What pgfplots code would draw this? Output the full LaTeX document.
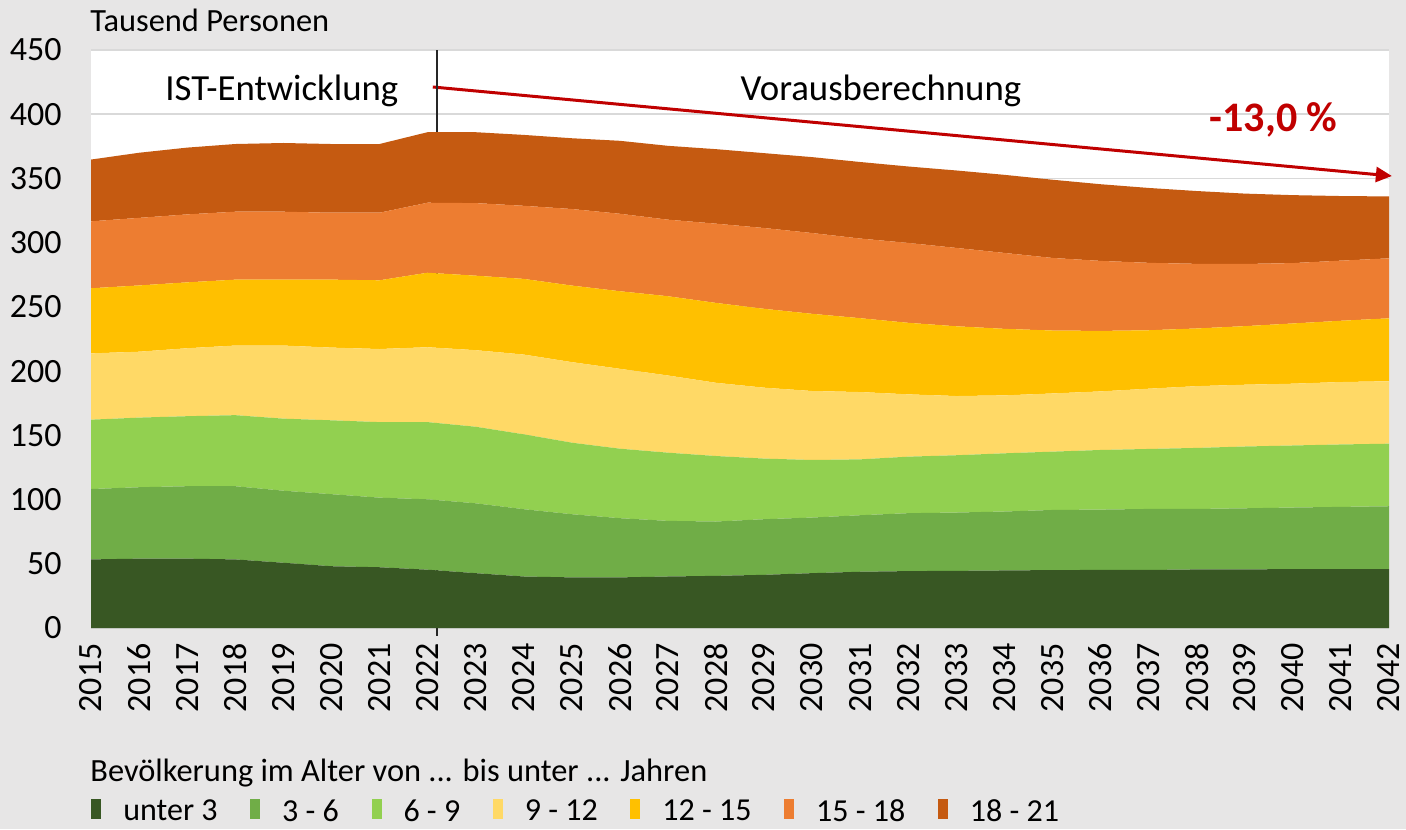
\documentclass[border=0pt]{standalone}
\usepackage{fontspec}
\setmainfont{Carlito}
\usepackage{pgfplots}
\usepackage{pgfplotstable}
\pgfplotsset{compat=1.18}
\usetikzlibrary{arrows.meta}
\definecolor{bgc}{HTML}{E7E6E6}
\definecolor{gridc}{HTML}{D9D9D9}
\definecolor{ca}{HTML}{385723}
\definecolor{cb}{HTML}{70AD47}
\definecolor{cc}{HTML}{92D050}
\definecolor{cd}{HTML}{FFD966}
\definecolor{ce}{HTML}{FFC000}
\definecolor{cf}{HTML}{ED7D31}
\definecolor{cg}{HTML}{C55A11}
\definecolor{redc}{HTML}{C00000}
\pgfplotstableread{
year a b c d e f g
2015 53.4 54.8 54.0 51.6 50.7 52.1 48.1
2016 54.0 55.6 54.2 51.3 51.6 52.6 50.7
2017 54.0 56.4 54.5 52.9 51.3 52.9 52.0
2018 53.4 57.0 55.3 54.2 51.3 52.9 52.7
2019 50.8 56.1 56.1 56.9 51.3 52.9 53.5
2020 48.1 56.1 57.5 56.6 52.9 52.1 53.5
2021 47.3 54.2 58.8 56.9 53.5 52.6 53.5
2022 45.4 54.8 60.1 58.3 58.0 54.5 54.9
2023 42.7 54.4 59.6 59.6 58.0 56.5 55.2
2024 40.1 52.4 58.3 62.1 58.9 56.9 55.2
2025 39.4 49.2 55.7 62.7 59.6 59.6 55.1
2026 39.4 46.1 54.1 62.2 60.4 60.3 56.8
2027 40.1 43.3 53.1 60.1 61.7 59.6 57.5
2028 40.6 42.3 51.0 57.0 62.2 61.7 58.0
2029 41.4 43.3 47.2 55.2 61.4 62.9 58.3
2030 42.7 43.3 44.8 53.7 60.1 62.9 59.1
2031 43.8 44.0 43.5 52.4 57.5 62.0 59.6
2032 44.3 45.1 44.0 48.5 55.7 62.2 59.5
2033 44.5 45.4 44.6 46.1 54.3 61.0 60.3
2034 44.8 45.9 45.3 45.1 51.8 59.1 60.8
2035 45.1 46.8 45.4 45.3 49.0 56.5 60.9
2036 45.2 47.0 46.4 45.6 47.1 54.5 59.7
2037 45.2 47.5 46.7 46.9 45.5 52.5 58.3
2038 45.6 47.1 47.5 48.1 44.9 50.3 56.7
2039 45.6 47.6 48.1 48.1 45.6 48.4 54.8
2040 45.9 47.9 48.3 48.1 46.9 47.0 52.9
2041 45.9 48.4 48.6 48.6 47.7 46.8 50.3
2042 45.9 48.9 48.7 48.6 49.0 46.7 48.2
}\data
\begin{document}
\begin{tikzpicture}
\fill[bgc] (0,0) rectangle (703pt,414.5pt);
\useasboundingbox (0,0) rectangle (703pt,414.5pt);
\node[anchor=west, font=\fontsize{16.2}{19}\selectfont, inner sep=0pt] at (45pt,404.5pt) {Tausend Personen};
\node[anchor=west, font=\fontsize{16.2}{19}\selectfont, inner sep=0pt] at (45pt,28pt) {Bevölkerung im Alter von ... bis unter ... Jahren};
\begin{axis}[
  at={(45.5pt,100.5pt)}, anchor=south west,
  width=649pt, height=289pt, scale only axis,
  xmin=2015, xmax=2042, ymin=0, ymax=450,
  xtick={2015,...,2042}, ytick={0,50,...,450},
  stack plots=y,
  axis line style={draw=none},
  tick style={draw=none},
  ymajorgrids, grid style={draw=gridc, line width=0.9pt},
  axis background/.style={fill=white},
  tick label style={font=\fontsize{17}{20}\selectfont},
  /pgf/number format/assume math mode=true,
  xticklabel style={rotate=90, anchor=east, inner xsep=7.5pt, inner ysep=0pt, /pgf/number format/1000 sep={}},
  yticklabel style={anchor=east, inner xsep=14.5pt},
  clip=false,
  legend columns=7,
  legend cell align=left,
  legend style={at={(axis description cs:0,-0.318)}, anchor=west, draw=none, fill=none, inner sep=0pt,
    font=\fontsize{16}{19}\selectfont,
    /tikz/every odd column/.append style={column sep=11pt},
    /tikz/every even column/.append style={column sep=16.3pt},
    nodes={inner sep=0pt}},
  legend image code/.code={\fill[#1] (0pt,-3.5pt) rectangle (5pt,6.5pt);},
]
\addplot[fill=ca, draw=none] table[x=year,y=a] {\data} \closedcycle;
\addplot[fill=cb, draw=none] table[x=year,y=b] {\data} \closedcycle;
\addplot[fill=cc, draw=none] table[x=year,y=c] {\data} \closedcycle;
\addplot[fill=cd, draw=none] table[x=year,y=d] {\data} \closedcycle;
\addplot[fill=ce, draw=none] table[x=year,y=e] {\data} \closedcycle;
\addplot[fill=cf, draw=none] table[x=year,y=f] {\data} \closedcycle;
\addplot[fill=cg, draw=none] table[x=year,y=g] {\data} \closedcycle;
\legend{unter 3, 3 - 6, 6 - 9, 9 - 12, 12 - 15, 15 - 18, 18 - 21}
\draw[black!85, line width=0.7pt] (axis cs:2022.2,450) -- (axis cs:2022.2,-6);
\draw[redc, line width=1.5pt, -{Triangle[length=8pt,width=7.5pt]}] (axis cs:2022.11,421.2) -- (axis cs:2042.06,351.9);
\node[anchor=base, font=\fontsize{18.4}{22}\selectfont] at (axis cs:2018.97,411) {IST-Entwicklung};
\node[anchor=base, font=\fontsize{18.4}{22}\selectfont] at (axis cs:2031.43,411) {Vorausberechnung};
\node[anchor=base, text=redc, font=\fontsize{21}{25}\selectfont\bfseries] at (axis cs:2039.6,386.4) {-13,0 \%};
\end{axis}
\end{tikzpicture}
\end{document}
